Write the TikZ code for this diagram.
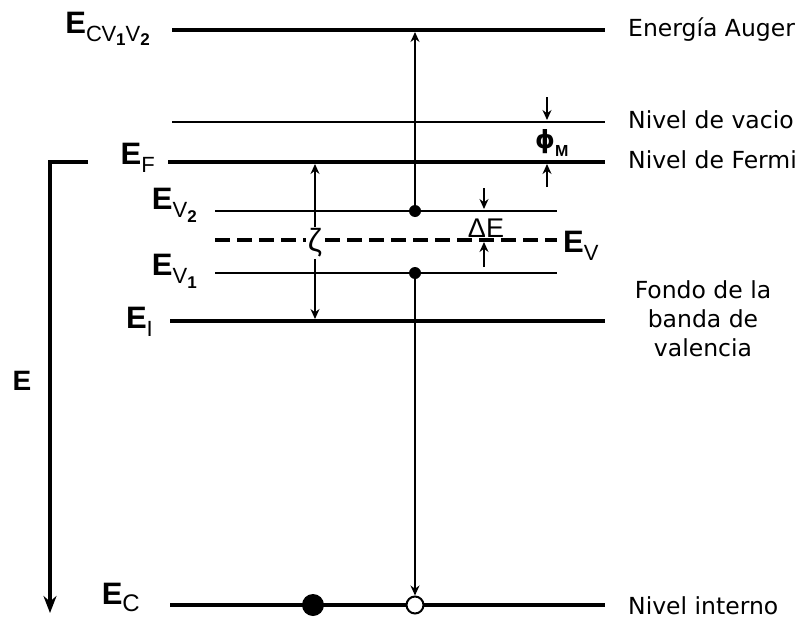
\documentclass[tikz,border=0pt]{standalone}
\usepackage{fontspec}
\setmainfont{Liberation Sans}
\newfontfamily\dejavu{DejaVu Sans}
\usetikzlibrary{arrows.meta}
\newcommand\bigE{{\fontsize{31}{32}\selectfont\bfseries E}}
\newcommand\sbs[1]{\raisebox{-8pt}{\fontsize{22}{22}\selectfont #1}}
\newcommand\ssbs[1]{\raisebox{-5pt}{\fontsize{17}{17}\selectfont\bfseries #1}}
\begin{document}
\begin{tikzpicture}[x=1pt,y=-1pt,
  thickline/.style={line width=4pt},
  thinline/.style={line width=2pt},
  dashline/.style={line width=4pt,dash pattern=on 15pt off 7pt},
  tipped/.style={line width=1.3pt,-{Stealth[length=10pt,width=9pt]}},
  lbl/.style={font=\dejavu\fontsize{23.5}{25}\selectfont,anchor=west,inner sep=0pt},
  elbl/.style={anchor=base east,inner sep=0pt},
  fdot/.style={circle,fill=black,inner sep=0pt,minimum size=#1},
  odot/.style={circle,draw=black,line width=2pt,fill=white,inner sep=0pt,minimum size=#1}]
\useasboundingbox (0,0) rectangle (809,621);
% level ends
\coordinate (a1) at (172,30);  \coordinate (a2) at (605,30);
\coordinate (v1) at (172,122); \coordinate (v2) at (605,122);
\coordinate (f1) at (168,162); \coordinate (f2) at (605,162);
\coordinate (b1) at (215,211); \coordinate (b2) at (557,211);
\coordinate (d1) at (215,240); \coordinate (d2) at (557,240);
\coordinate (c1) at (215,273); \coordinate (c2) at (557,273);
\coordinate (i1) at (170,321); \coordinate (i2) at (605,321);
\coordinate (k1) at (170,605); \coordinate (k2) at (605,605);
\draw[thickline] (a1) -- (a2);
\draw[thinline] (v1) -- (v2);
\draw[thickline] (f1) -- (f2);
\draw[thinline] (b1) -- (b2);
\draw[dashline] (d1) -- (d2);
\draw[thinline] (c1) -- (c2);
\draw[thickline] (i1) -- (i2);
\draw[thickline] (k1) -- (k2);
% dots
\node[fdot=12pt] (dv2) at (415,211) {};
\node[fdot=12pt] (dv1) at (415,273) {};
\node[fdot=22pt] (dc) at (313,605) {};
\node[odot=17pt] (oc) at (415,605) {};
\coordinate (atop) at (415,32);
\draw[tipped] (dv2) -- (atop);
\draw[tipped] (dv1) -- (oc);
% zeta
\coordinate (zt) at (315,164);
\coordinate (zb) at (315,319);
\node[fill=white,inner sep=1.5pt,font=\fontsize{32}{32}\selectfont] (zeta) at (315,243) {ζ};
\draw[tipped] (zeta) -- (zt);
\draw[tipped] (zeta) -- (zb);
% phi_M
\coordinate (p1s) at (547,97);  \coordinate (p1e) at (547,120);
\coordinate (p2s) at (547,187); \coordinate (p2e) at (547,164);
\draw[tipped] (p1s) -- (p1e);
\draw[tipped] (p2s) -- (p2e);
\node[anchor=base west,inner sep=0pt] (phi) at (535,148) {{\dejavu\fontsize{25}{26}\selectfont\bfseries ϕ}\raisebox{-8pt}{\fontsize{16}{16}\selectfont\bfseries M}};
% Delta E
\coordinate (q1s) at (484,188); \coordinate (q1e) at (484,209);
\coordinate (q2s) at (484,267); \coordinate (q2e) at (484,242);
\draw[tipped] (q1s) -- (q1e);
\draw[tipped] (q2s) -- (q2e);
\node[anchor=base,inner sep=0pt,font=\fontsize{27}{28}\selectfont] (de) at (486,237) {ΔE};
% energy axis
\coordinate (ax0) at (88,162);
\coordinate (ax1) at (50,162);
\coordinate (ax2) at (50,613);
\draw[line width=4.5pt,-{Stealth[length=17pt,width=13pt]}] (ax0) -- (ax1) -- (ax2);
\node[anchor=base,inner sep=0pt,font=\fontsize{28}{30}\selectfont\bfseries] (elab) at (22,390) {E};
% left labels
\node[elbl] (lA) at (150,33) {\bigE\sbs{C\kern-0.5pt V\ssbs{1}V\ssbs{2}}};
\node[elbl] (lF) at (155,164) {\bigE\sbs{F}};
\node[elbl] (lV2) at (197,209) {\bigE\sbs{V\ssbs{2}}};
\node[elbl] (lV1) at (197,275) {\bigE\sbs{V\ssbs{1}}};
\node[elbl] (lI) at (153,328) {\bigE\sbs{I}};
\node[elbl] (lC) at (140,604) {\bigE\raisebox{-7pt}{\fontsize{24}{24}\selectfont C}};
\node[anchor=base west,inner sep=0pt] (lV) at (563,252) {\bigE\sbs{V}};
% right labels
\node[lbl] (r1) at (628,30) {Energía Auger};
\node[lbl] (r2) at (628,120) {Nivel de vacio};
\node[lbl] (r3) at (628,160) {Nivel de Fermi};
\node[font=\dejavu\fontsize{23.5}{29}\selectfont,align=center,inner sep=0pt] (r4) at (703,319) {Fondo de la\\banda de\\valencia};
\node[lbl] (r5) at (628,606) {Nivel interno};
\end{tikzpicture}
\end{document}
